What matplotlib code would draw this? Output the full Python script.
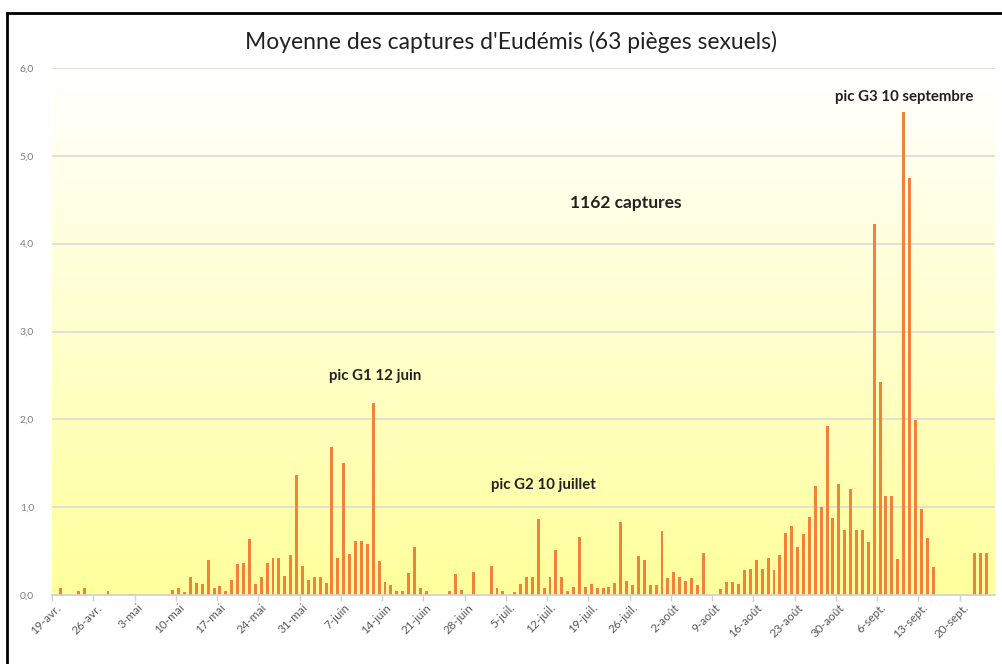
import numpy as np
import matplotlib
matplotlib.use("Agg")
import matplotlib.pyplot as plt
from matplotlib.colors import LinearSegmentedColormap
import matplotlib.lines as mlines

# ---- data (day index 0 = 19-avr., 160 days up to 25-sept.) ----
n_days = 160
captures = {
    1: 0.08, 4: 0.05, 5: 0.08, 9: 0.04, 13: 0.01,
    20: 0.06, 21: 0.08, 22: 0.03, 23: 0.21, 24: 0.14, 25: 0.13, 26: 0.40,
    27: 0.08, 28: 0.10, 29: 0.04, 30: 0.17, 31: 0.35, 32: 0.37, 33: 0.64,
    34: 0.12, 35: 0.21, 36: 0.37, 37: 0.42, 38: 0.42, 39: 0.22, 40: 0.45,
    41: 1.37, 42: 0.33, 43: 0.17, 44: 0.21, 45: 0.20, 46: 0.14, 47: 1.69,
    48: 0.42, 49: 1.50, 50: 0.47, 51: 0.61, 52: 0.62, 53: 0.58, 54: 2.19,
    55: 0.39, 56: 0.15, 57: 0.11, 58: 0.04, 59: 0.045, 60: 0.25, 61: 0.55,
    62: 0.076, 63: 0.045,
    67: 0.045, 68: 0.235, 69: 0.057, 71: 0.26, 74: 0.33, 75: 0.083, 76: 0.045,
    78: 0.034, 79: 0.13, 80: 0.20, 81: 0.20, 82: 0.87, 83: 0.076, 84: 0.20,
    85: 0.51, 86: 0.20, 87: 0.045, 88: 0.095, 89: 0.655, 90: 0.095, 91: 0.13,
    92: 0.076, 93: 0.076, 94: 0.095, 95: 0.14, 96: 0.83, 97: 0.16, 98: 0.11,
    99: 0.44, 100: 0.40, 101: 0.11, 102: 0.11, 103: 0.73, 104: 0.19, 105: 0.26,
    106: 0.21, 107: 0.16, 108: 0.19, 109: 0.11, 110: 0.48,
    113: 0.064, 114: 0.15, 115: 0.15, 116: 0.13, 117: 0.29, 118: 0.30,
    119: 0.40, 120: 0.30, 121: 0.42, 122: 0.28, 123: 0.46, 124: 0.71,
    125: 0.78, 126: 0.55, 127: 0.70, 128: 0.89, 129: 1.24, 130: 1.00,
    131: 1.92, 132: 0.88, 133: 1.26, 134: 0.74, 135: 1.21, 136: 0.74,
    137: 0.74, 138: 0.60, 139: 4.22, 140: 2.42, 141: 1.13, 142: 1.13,
    143: 0.41, 144: 5.50, 145: 4.75, 146: 1.99, 147: 0.98, 148: 0.65,
    149: 0.32, 156: 0.48, 157: 0.48, 158: 0.48,
}
days = np.arange(n_days)
values = np.array([captures.get(d, 0.0) for d in days])

tick_days = list(range(0, 155, 7))
tick_labels = ["19-avr.", "26-avr.", "3-mai", "10-mai", "17-mai", "24-mai",
               "31-mai", "7-juin", "14-juin", "21-juin", "28-juin", "5-juil.",
               "12-juil.", "19-juil.", "26-juil.", "2-août", "9-août",
               "16-août", "23-août", "30-août", "6-sept.", "13-sept.",
               "20-sept."]
y_ticks = [0, 1, 2, 3, 4, 5, 6]
y_labels = ["0,0", "1,0", "2,0", "3,0", "4,0", "5,0", "6,0"]

title = "Moyenne des captures d'Eudémis (63 pièges sexuels)"
annotations = [
    ("pic G1 12 juin", 54.4, 2.49, 10.8),
    ("pic G2 10 juillet", 82.9, 1.25, 10.8),
    ("pic G3 10 septembre", 144.1, 5.67, 10.8),
    ("1162 captures", 96.9, 4.46, 12.5),
]

# ---- figure ----
W, H = 1003, 664
fig = plt.figure(figsize=(W / 100, H / 100), dpi=100)
fig.patch.set_facecolor("white")

ax = fig.add_axes([52 / W, 1 - 595 / H, (995 - 52) / W, (595 - 68) / H])
ax.set_xlim(-0.5, n_days - 0.5)
ax.set_ylim(0, 6)

# gradient background
cmap = LinearSegmentedColormap.from_list("bg", ["#FFFF9C", "#FFFFFF"])
grad = np.linspace(0, 1, 256).reshape(-1, 1)
ax.imshow(grad, aspect="auto", cmap=cmap, origin="lower",
          extent=[-0.5, n_days - 0.5, 0, 6], zorder=0)

for y in y_ticks[1:]:
    ax.axhline(y, color="#DADADA", lw=1.2, zorder=1)

ax.bar(days, values, width=0.5, color="#F0823A", edgecolor="none", zorder=3)

for s in ["left", "right", "top"]:
    ax.spines[s].set_visible(False)
ax.spines["bottom"].set_color("#D0D0D0")
ax.spines["bottom"].set_linewidth(1.2)
ax.spines["bottom"].set_zorder(4)

ax.set_yticks(y_ticks)
ax.set_yticklabels(y_labels, fontsize=7.5, color="#7F7F7F", family="Lato")
ax.tick_params(axis="y", length=0, pad=13)

ax.set_xticks(tick_days)
ax.set_xticklabels(tick_labels, rotation=45, ha="right", rotation_mode="anchor",
                   fontsize=8.5, color="#595959", family="Lato")
ax.tick_params(axis="x", length=0, pad=5)
ax.set_xticks([d - 0.5 for d in tick_days], minor=True)
ax.tick_params(axis="x", which="minor", length=4, color="#D0D0D0", width=1)

fig.text(511 / W, 1 - 42 / H, title, ha="center", va="center",
         fontsize=16.5, color="#222222", family="Lato")

for txt, x, y, fs in annotations:
    ax.text(x, y, txt, ha="center", va="center", fontsize=fs,
            fontweight="bold", color="#222222", family="Lato", zorder=5)

# frame (left and top edges visible)
fig.add_artist(mlines.Line2D([7 / W, 7 / W], [0, 1 - 13 / H],
                             transform=fig.transFigure, color="black", lw=2))
fig.add_artist(mlines.Line2D([7 / W, 1], [1 - 13 / H, 1 - 13 / H],
                             transform=fig.transFigure, color="black", lw=2))

fig.savefig("out.png", dpi=100)
